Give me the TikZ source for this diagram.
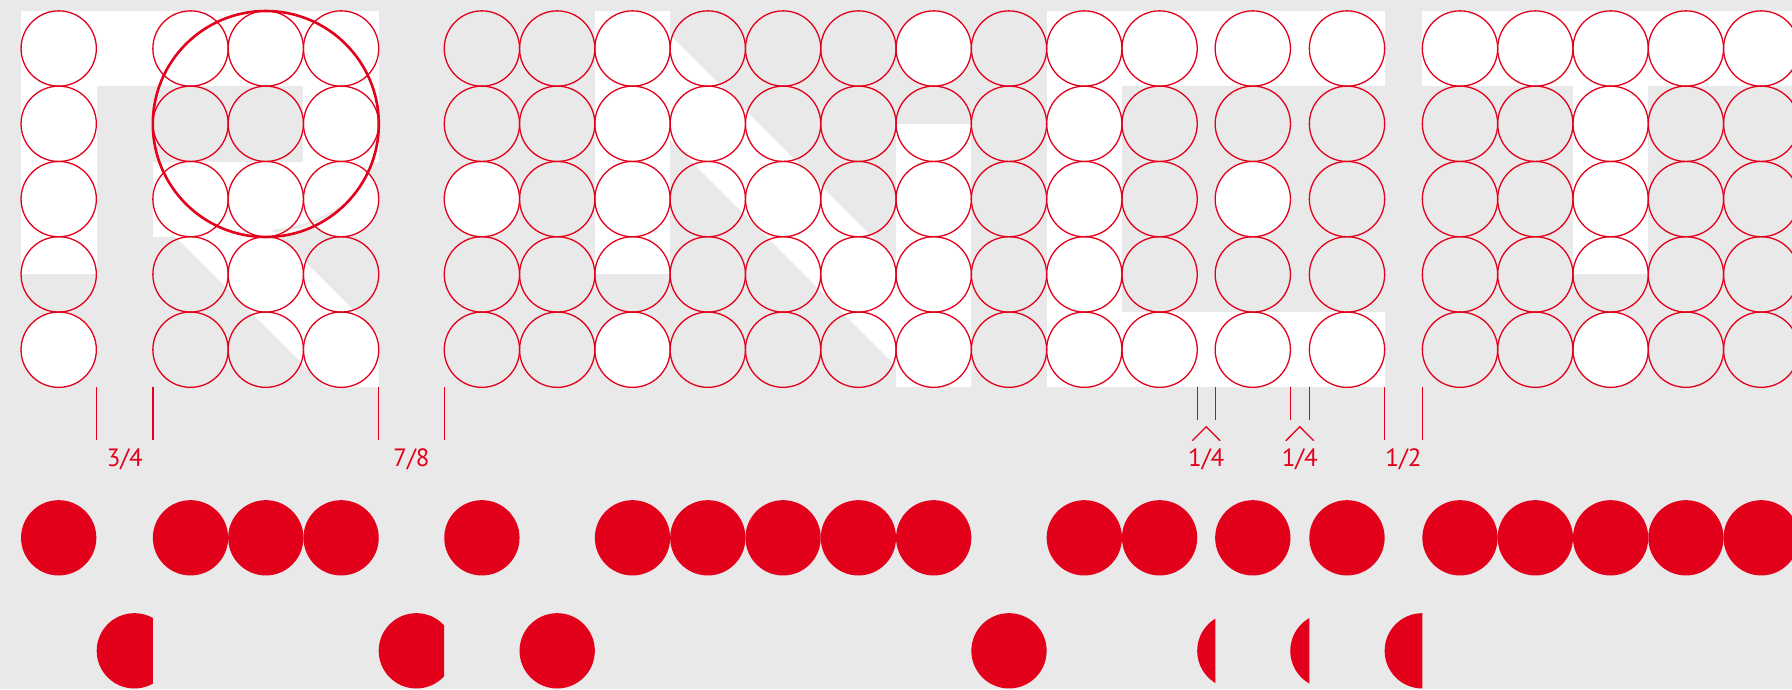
\documentclass[tikz,border=0pt]{standalone}
\usepackage{fontspec}
\newfontfamily\lblfont{PT Sans}
\definecolor{bggray}{RGB}{233,233,233}
\definecolor{dred}{RGB}{226,0,26}
\begin{document}
\begin{tikzpicture}[x=1pt,y=-1pt,
  ring/.style={draw=dred,line width=1.3pt},
  bigring/.style={draw=dred,line width=2.6pt},
  tick/.style={draw=dred,line width=1.3pt},
  lbl/.style={text=dred,font=\lblfont\fontsize{25}{30}\selectfont,anchor=base,inner sep=0pt},
  reddot/.style={fill=dred}]
\useasboundingbox (0,0) rectangle (1792,689);
\fill[bggray] (0,0) rectangle (1792,689);
% ---------- white letter shapes ----------
% letter 1 and top bar
\fill[white] (21,11) rectangle (96.7,274.4);
\fill[white] (21,11) rectangle (378.7,86.3);
% letter 2
\fill[white] (303.4,86.3) rectangle (378.7,161.7);
\fill[white] (152.9,161.7) rectangle (265.8,237);
\begin{scope}
  \clip (265.8,124) circle[radius=113];
  \fill[white] (265.8,161.7) rectangle (378.7,237);
\end{scope}
\fill[white] (172,233) -- (276.3,233) -- (378.7,335.4) -- (378.7,387) -- (326,387) -- cycle;
% N
\fill[white] (594.8,11) rectangle (670.1,274.4);
\fill[white] (594.8,11) -- (646,11) -- (971.3,336.3) -- (971.3,387) -- (917,387) -- (594.8,64.8) -- cycle;
\fill[white] (896,123.8) rectangle (971.3,387);
% E
\fill[white] (1046.6,11) rectangle (1121.9,387);
\fill[white] (1046.6,11) rectangle (1384.7,86.3);
\fill[white] (1046.6,312.4) rectangle (1384.7,387);
% T
\fill[white] (1422.3,11) rectangle (1792,86.3);
\fill[white] (1572.7,86.3) rectangle (1648,274.4);
% ---------- white-filled dots ----------
\foreach \cx/\cy in {58.7/48.5,58.7/123.8,58.7/199.1,58.7/349.7,
  190.5/48.5,265.8/48.5,341.1/48.5,341.1/123.8,190.5/199.1,341.1/199.1,265.8/274.4,341.1/349.7,
  481.9/199.1,632.5/48.5,632.5/123.8,632.5/199.1,632.5/349.7,707.8/123.8,783.1/199.1,858.4/274.4,
  933.7/48.5,933.7/199.1,933.7/274.4,933.7/349.7,
  1084.3/48.5,1084.3/123.8,1084.3/199.1,1084.3/274.4,1084.3/349.7,
  1159.6/48.5,1159.6/349.7,1252.8/48.5,1252.8/199.1,1252.8/349.7,1347/48.5,1347/349.7,
  1460/48.5,1535.3/48.5,1610.6/48.5,1685.9/48.5,1761.2/48.5,1610.6/123.8,1610.6/199.1,1610.6/349.7}
  \fill[white] (\cx,\cy) circle[radius=37.65];
% gap between bowl and leg of the second letter
\draw[bggray,line width=3pt,line cap=round] plot[smooth] coordinates {(274,231) (300,226.5) (325,216.5) (345,205)};
% ---------- dot outlines ----------
\foreach \cx in {58.7,190.5,265.8,341.1,481.9,557.2,632.5,707.8,783.1,858.4,933.7,1009,1084.3,1159.6,1252.8,1347,1460,1535.3,1610.6,1685.9,1761.2}
  \foreach \cy in {48.5,123.8,199.1,274.4,349.7}
    \draw[ring] (\cx,\cy) circle[radius=37.65];
% big construction circle
\draw[bigring] (265.8,124) circle[radius=113];
% ---------- measurement ticks ----------
\foreach \tx in {96.7,152.9,378.7,444.2,1384.7,1422.3}
  \draw[tick] (\tx,387) -- (\tx,440.3);
\foreach \tx in {1197.2,1215.3,1290.3,1309.3}
  \draw[tick] (\tx,387) -- (\tx,420);
\draw[tick] (1192.3,440.7) -- (1206.2,426.7) -- (1220.1,440.7);
\draw[tick] (1285.9,440.7) -- (1299.8,426.7) -- (1313.7,440.7);
\node[lbl] (l34) at (124.8,466) {3/4};
\node[lbl] (l78) at (411.5,466) {7/8};
\node[lbl] (l14a) at (1206.2,466) {1/4};
\node[lbl] (l14b) at (1299.8,466) {1/4};
\node[lbl] (l12) at (1403.5,466) {1/2};
% ---------- red dots ----------
\foreach \cx in {58.7,190.5,265.8,341.1,481.9,632.5,707.8,783.1,858.4,933.7,1084.3,1159.6,1252.8,1347,1460,1535.3,1610.6,1685.9,1761.2}
  \fill[reddot] (\cx,537.8) circle[radius=37.65];
\fill[reddot] (557.2,650.8) circle[radius=37.65];
\fill[reddot] (1009,650.8) circle[radius=37.65];
\begin{scope}
  \clip (90,600) rectangle (152.9,689);
  \fill[reddot] (134.35,650.8) circle[radius=37.65];
\end{scope}
\begin{scope}
  \clip (370,600) rectangle (444.2,689);
  \fill[reddot] (416.35,650.8) circle[radius=37.65];
\end{scope}
\begin{scope}
  \clip (1190,600) rectangle (1215.3,689);
  \fill[reddot] (1234.85,650.8) circle[radius=37.65];
\end{scope}
\begin{scope}
  \clip (1280,600) rectangle (1309.3,689);
  \fill[reddot] (1327.95,650.8) circle[radius=37.65];
\end{scope}
\begin{scope}
  \clip (1380,600) rectangle (1422.3,689);
  \fill[reddot] (1422.3,650.8) circle[radius=37.65];
\end{scope}
\end{tikzpicture}
\end{document}
